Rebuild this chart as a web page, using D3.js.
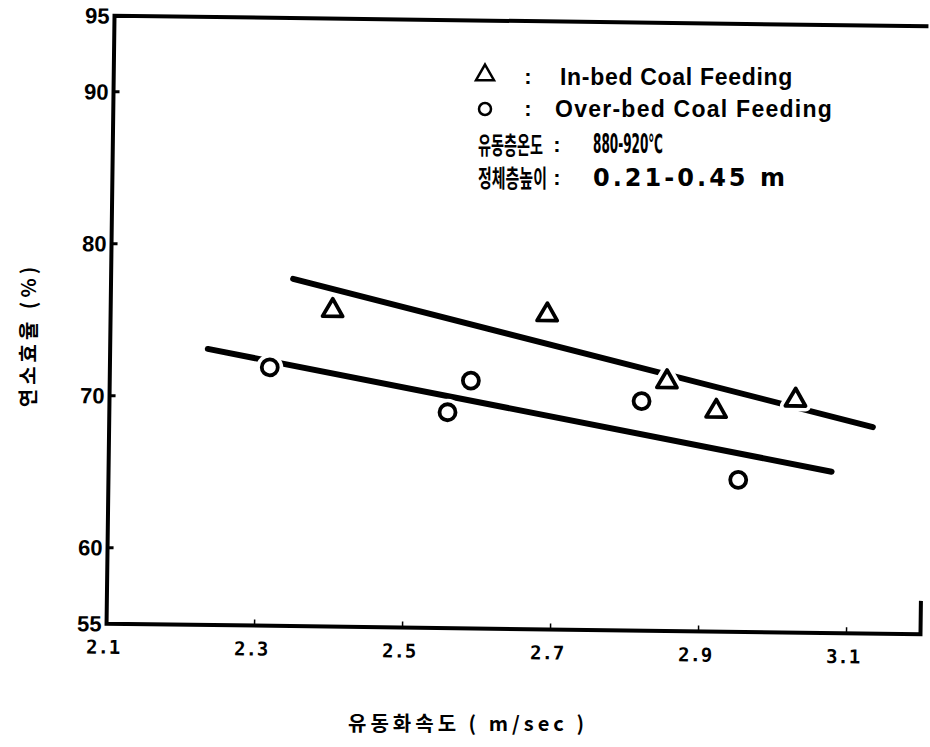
<!DOCTYPE html>
<html>
<head>
<meta charset="utf-8">
<script src="https://cdn.jsdelivr.net/npm/d3@7"></script>
<style>
  body { margin: 0; background: #fff; }
  svg { display: block; }
</style>
</head>
<body>
<div id="chart"></div>
<script>
// donnees
var xTicks = [2.1, 2.3, 2.5, 2.7, 2.9, 3.1];
var yTicks = [55, 60, 70, 80, 90, 95];
var yTickMarks = [60, 70, 80, 90];

// In-bed coal feeding (triangles)
var inbedX = [2.40, 2.69, 2.853, 2.92, 3.027];
var inbedY = [75.8, 75.7, 71.4, 69.5, 70.3];
// Over-bed coal feeding (cercles)
var overbedX = [2.316, 2.557, 2.588, 2.819, 2.951];
var overbedY = [72.0, 69.2, 71.3, 70.1, 65.0];

// droites d'ajustement (extremites)
var fitInbedX = [2.346, 3.132];
var fitInbedY = [77.84, 68.59];
var fitOverbedX = [2.232, 3.077];
var fitOverbedY = [73.16, 65.62];

var legendRows = ["In-bed Coal Feeding", "Over-bed Coal Feeding", "유동층온도", "정체층높이"];
var legendValues = ["", "", "880-920℃", "0.21-0.45 m"];

var width = 930, height = 747;

var svg = d3.select("#chart").append("svg")
  .attr("width", width)
  .attr("height", height);

var x = d3.scaleLinear().domain([2.1, 3.2]).range([110.5, 924.5]);
var y = d3.scaleLinear().domain([55, 95]).range([629, 21]);

// ajuste la largeur d'un texte : par espacement ou par echelle horizontale
function fitSpacing(node, target) {
  var w = node.getComputedTextLength();
  var n = node.textContent.length;
  d3.select(node).style("letter-spacing", ((target - w) / n) + "px");
}
function fitScale(node, x0, y0, target) {
  var w = node.getComputedTextLength();
  d3.select(node).attr("x", 0).attr("y", 0)
    .attr("transform", "translate(" + x0 + "," + y0 + ") scale(" + (target / w) + ",1)");
}

// la figure scannee est legerement tournee
var g = svg.append("g").attr("transform", "rotate(0.75,517,325)");

// cadre
var frame = d3.line();
g.append("path")
  .attr("d", frame([[x(3.2), y(95)], [x(2.1), y(95)], [x(2.1), y(55)], [x(3.2), y(55)], [x(3.2), y(57.2)]]))
  .attr("fill", "none")
  .attr("stroke", "#000")
  .attr("stroke-width", 4);

// petits tirets
g.selectAll(".xt").data(xTicks.slice(1)).enter().append("line")
  .attr("x1", function(d){ return x(d); })
  .attr("x2", function(d){ return x(d); })
  .attr("y1", y(55))
  .attr("y2", y(55) - 6)
  .attr("stroke", "#000").attr("stroke-width", 1.5);

g.selectAll(".yt").data(yTickMarks).enter().append("line")
  .attr("x1", x(2.1))
  .attr("x2", x(2.1) + 6)
  .attr("y1", function(d){ return y(d); })
  .attr("y2", function(d){ return y(d); })
  .attr("stroke", "#000").attr("stroke-width", 3);

// etiquettes des axes
g.selectAll(".xl").data(xTicks).enter().append("text")
  .attr("x", function(d){ return x(d) - 3; })
  .attr("y", y(55) + 30)
  .attr("text-anchor", "middle")
  .style("font-family", "'DejaVu Sans Mono', monospace")
  .style("font-weight", "bold")
  .style("font-size", "19px")
  .text(function(d){ return d.toFixed(1); });

g.selectAll(".yl").data(yTicks).enter().append("text")
  .attr("x", x(2.1) - 5)
  .attr("y", function(d){ return y(d); })
  .attr("dy", "0.36em")
  .attr("text-anchor", "end")
  .style("font-family", "'Liberation Sans', Arial, sans-serif")
  .style("font-weight", "bold")
  .style("font-size", "22px")
  .text(function(d){ return d; });

// droites
function drawFit(xs, ys) {
  var pts = xs.map(function(v, i){ return [x(v), y(ys[i])]; });
  g.append("path")
    .attr("d", d3.line()(pts))
    .attr("fill", "none")
    .attr("stroke", "#000")
    .attr("stroke-width", 6)
    .attr("stroke-linecap", "round");
}
drawFit(fitInbedX, fitInbedY);
drawFit(fitOverbedX, fitOverbedY);

// points
var tri = d3.symbol().type(d3.symbolTriangle).size(175)();

function drawTriangles(sel, stroke, sw) {
  sel.data(inbedX).enter().append("path")
    .attr("d", tri)
    .attr("transform", function(d, i){ return "translate(" + x(d) + "," + y(inbedY[i]) + ")"; })
    .attr("fill", "#fff")
    .attr("stroke", stroke)
    .attr("stroke-width", sw)
    .attr("stroke-linejoin", "round");
}
function drawCircles(sel, stroke, sw) {
  sel.data(overbedX).enter().append("circle")
    .attr("cx", function(d){ return x(d); })
    .attr("cy", function(d, i){ return y(overbedY[i]); })
    .attr("r", 8)
    .attr("fill", "#fff")
    .attr("stroke", stroke)
    .attr("stroke-width", sw);
}
// halo blanc qui coupe les droites
drawTriangles(g.selectAll(".th"), "#fff", 11);
drawCircles(g.selectAll(".ch"), "#fff", 11);
drawTriangles(g.selectAll(".tp"), "#000", 3.8);
drawCircles(g.selectAll(".cp"), "#000", 3.8);

// legende
var leg = svg.append("g");
leg.append("path")
  .attr("d", d3.symbol().type(d3.symbolTriangle).size(140)())
  .attr("transform", "translate(485,75)")
  .attr("fill", "none").attr("stroke", "#000").attr("stroke-width", 2.5);
leg.append("circle")
  .attr("cx", 485).attr("cy", 109).attr("r", 6)
  .attr("fill", "none").attr("stroke", "#000").attr("stroke-width", 2.5);

var rowY = [85, 117, 153, 186];
var rowX = [560, 555, 478, 478];
var rowLen = [233, 278, 65, 69];
var colonX = [528, 528, 557, 557];
var valLen = [0, 0, 70, 195];

leg.selectAll(".lt").data(legendRows).enter().append("text")
  .attr("x", function(d, i){ return rowX[i]; })
  .attr("y", function(d, i){ return rowY[i]; })
  .style("font-family", function(d, i){ return i < 2 ? "'Liberation Sans', sans-serif" : "'Noto Sans CJK KR', sans-serif"; })
  .style("font-weight", "bold")
  .style("font-size", function(d, i){ return i < 2 ? "23px" : "24px"; })
  .text(function(d){ return d; })
  .each(function(d, i){
    if (i < 2) fitSpacing(this, rowLen[i]);
    else fitScale(this, rowX[i], rowY[i] + 1, rowLen[i]);
  });

leg.selectAll(".lc").data(legendRows).enter().append("text")
  .attr("x", function(d, i){ return colonX[i]; })
  .attr("y", function(d, i){ return rowY[i] - 1; })
  .attr("text-anchor", "middle")
  .style("font-family", "'Liberation Sans', sans-serif")
  .style("font-weight", "bold")
  .style("font-size", "22px")
  .text(":");

leg.selectAll(".lv").data(legendValues.slice(2)).enter().append("text")
  .attr("x", 593)
  .attr("y", function(d, i){ return rowY[i + 2]; })
  .style("font-family", "'DejaVu Sans', sans-serif")
  .style("font-weight", "bold")
  .style("font-size", function(d, i){ return i === 0 ? "26px" : "24px"; })
  .text(function(d){ return d; })
  .each(function(d, i){
    if (i === 0) fitScale(this, 593, rowY[2], valLen[2]);
    else fitSpacing(this, valLen[3]);
  });

// titres des axes
svg.append("text")
  .attr("transform", "translate(36,335) rotate(-90)")
  .attr("text-anchor", "middle")
  .style("font-family", "'Noto Sans CJK KR', sans-serif")
  .style("font-weight", "bold")
  .style("font-size", "20px")
  .style("letter-spacing", "4px")
  .text("연소효율 (%)");

svg.append("text")
  .attr("x", 348)
  .attr("y", 731)
  .style("font-family", "'Noto Sans CJK KR', sans-serif")
  .style("font-weight", "bold")
  .style("font-size", "20px")
  .text("유동화속도 ( m/sec )")
  .each(function(){ fitSpacing(this, 240); });
</script>
</body>
</html>
